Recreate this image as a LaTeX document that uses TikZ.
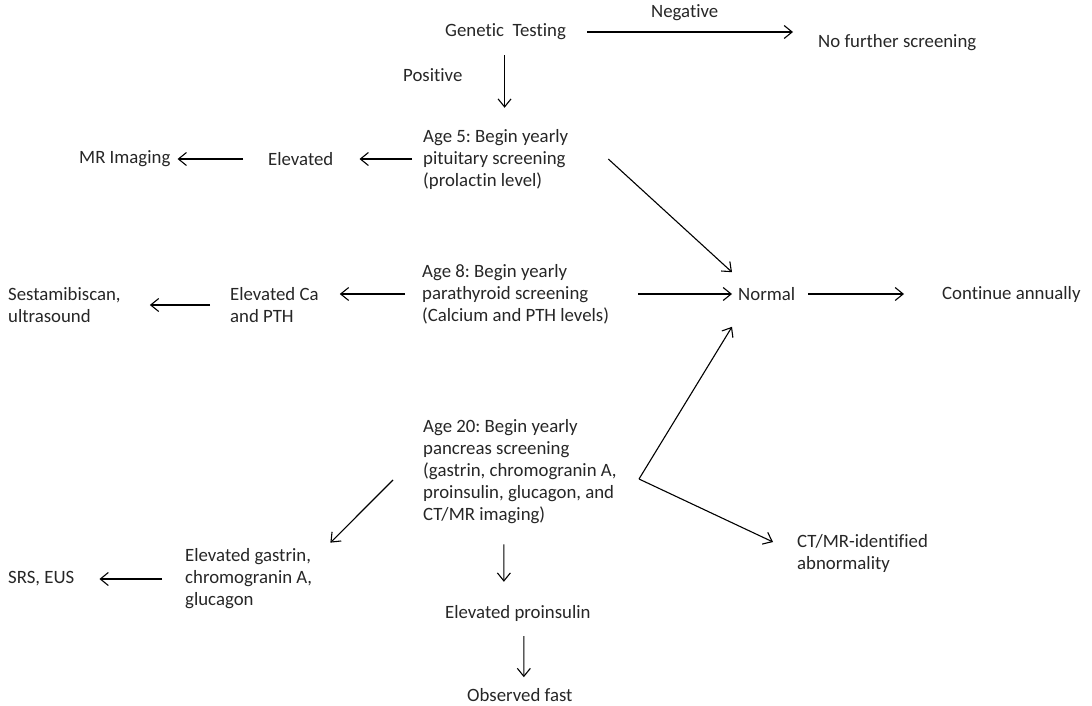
\documentclass[tikz,border=0pt]{standalone}
\usepackage{fontspec}
\setmainfont{Carlito}[Ligatures={NoCommon}]
\usetikzlibrary{arrows.meta}
\frenchspacing
\begin{document}
\begin{tikzpicture}[x=1pt,y=-1pt,
  txt/.style={anchor=west, inner sep=0pt, align=left, font=\fontsize{18.8}{22}\selectfont, text=black!85},
  arr/.style={-{Straight Barb[length=8pt,width=13pt,line width=1.1pt]}, line width=1.1pt},
]
\useasboundingbox (0,0) rectangle (1092,706);
% nodes
\node[txt] (gt)  at (445,32)  {Genetic\ \ Testing};
\node[txt] (neg) at (651,13)  {Negative};
\node[txt] (nf)  at (818,43)  {No further screening};
\node[txt] (pos) at (403,75)  {Positive};
\node[txt] (a5)  at (423,159) {Age 5: Begin yearly\\pituitary screening\\(prolactin level)};
\node[txt] (el)  at (268,159) {Elevated};
\node[txt] (mr)  at (79,159)  {MR Imaging};
\node[txt] (a8)  at (422,294) {Age 8: Begin yearly\\parathyroid screening\\(Calcium and PTH levels)};
\node[txt] (eca) at (230,305) {Elevated Ca\\and PTH};
\node[txt] (ses) at (8,305)   {Sestamibiscan,\\ultrasound};
\node[txt] (nor) at (738,294) {Normal};
\node[txt] (ca)  at (942,294) {Continue annually};
\node[txt] (a20) at (423,472) {Age 20: Begin yearly\\pancreas screening\\(gastrin, chromogranin A,\\proinsulin, glucagon, and\\CT/MR imaging)};
\node[txt] (eg)  at (185,579) {Elevated gastrin,\\chromogranin A,\\glucagon};
\node[txt] (srs) at (8,579)   {SRS, EUS};
\node[txt] (ct)  at (797,553) {CT/MR-identified\\abnormality};
\node[txt] (ep)  at (445,613) {Elevated proinsulin};
\node[txt] (of)  at (467,695) {Observed fast};
\coordinate (v) at (639,479);
% connectors
\draw[arr, shorten <=21pt, shorten >=25pt, yshift=-3pt] (gt.east) -- (gt.east -| nf.west);
\draw[arr] ([shift={(-1,15)}]gt.south) -- ([shift={(-1,-21)}]gt.south |- a5.north);
\draw[arr, shorten <=11pt, shorten >=26pt] (a5.west) -- (el.east);
\draw[arr, shorten <=25pt, shorten >=7pt] (el.west) -- (mr.east);
\draw[arr] ([shift={(40,0)}]a5.east) -- ([shift={(-6,-15)}]nor.north west);
\draw[arr, shorten <=17pt, shorten >=21pt] (a8.west) -- (a8.west -| eca.east);
\draw[arr, shorten <=20pt, shorten >=29pt, yshift=11pt] (eca.west) -- (ses.east);
\draw[arr, shorten <=29pt, shorten >=6pt] (a8.east) -- (nor.west);
\draw[arr, shorten <=13pt, shorten >=38pt] (nor.east) -- (ca.west);
\draw[arr] (v) -- ([shift={(-6,26)}]nor.south west);
\draw[arr] (v) -- ([shift={(-24,-11)}]ct.west);
\draw[arr] ([shift={(-30,8)}]a20.west) -- ([shift={(18,-6)}]eg.north east);
\draw[arr, shorten <=23pt, shorten >=25pt] (eg.west) -- (srs.east);
\draw[arr] ([shift={(-16,20)}]a20.south) -- ([shift={(-14,-23)}]ep.north);
\draw[arr] ([shift={(6,15)}]ep.south) -- ([shift={(4,-11)}]of.north);
\end{tikzpicture}
\end{document}
